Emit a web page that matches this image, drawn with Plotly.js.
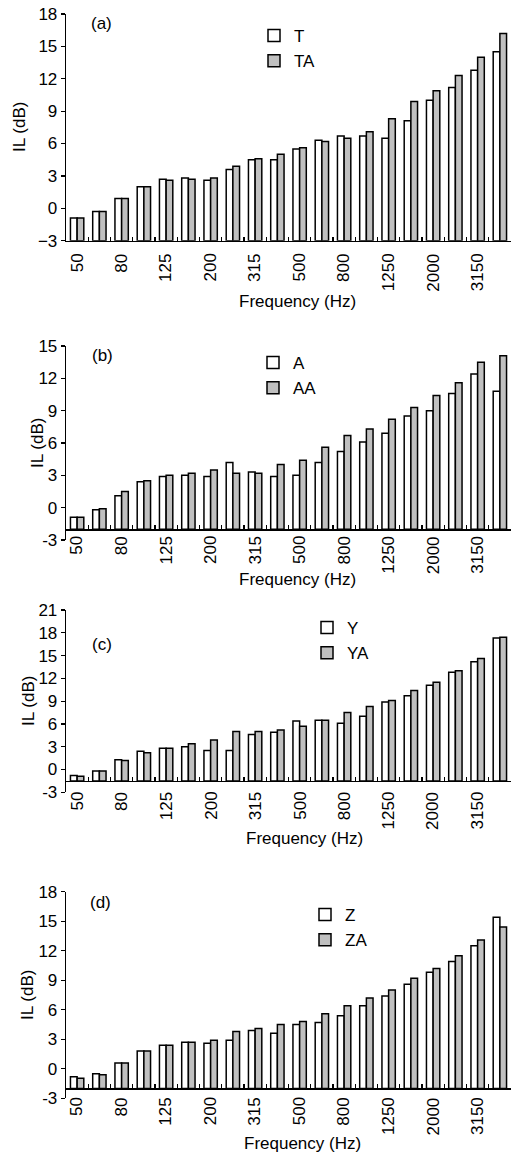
<!DOCTYPE html>
<html><head><meta charset="utf-8">
<script src="https://cdn.plot.ly/plotly-3.0.1.min.js"></script>
<style>html,body{margin:0;padding:0;background:#fff}#chart{width:519px;height:1153px}</style>
</head><body><div id="chart"></div>
<script>
// ---- data ----
const frequencies = ['50','63','80','100','125','160','200','250','315','400','500','630','800','1000','1250','1600','2000','2500','3150','4000'];
const tickLabels  = ['50','','80','','125','','200','','315','','500','','800','','1250','','2000','','3150',''];

const T  = [-0.9,-0.3,0.9,2.0,2.7,2.8,2.6,3.6,4.5,4.5,5.5,6.3,6.7,6.7,6.5,8.1,10.0,11.2,12.8,14.5];
const TA = [-0.9,-0.3,0.9,2.0,2.6,2.7,2.8,3.9,4.6,5.0,5.6,6.2,6.5,7.1,8.3,9.9,10.9,12.3,14.0,16.2];

const A  = [-0.9,-0.2,1.1,2.4,2.9,3.0,2.9,4.2,3.3,2.9,3.0,4.2,5.2,6.1,6.9,8.5,9.0,10.6,12.4,10.8];
const AA = [-0.9,-0.1,1.5,2.5,3.0,3.2,3.5,3.2,3.2,4.0,4.4,5.6,6.7,7.3,8.2,9.3,10.4,11.6,13.5,14.1];

const Y  = [-0.8,-0.2,1.3,2.4,2.8,3.0,2.5,2.5,4.6,4.9,6.4,6.5,6.1,7.0,8.9,9.7,11.1,12.8,14.2,17.3];
const YA = [-0.9,-0.2,1.2,2.2,2.8,3.4,3.9,5.0,5.0,5.2,5.7,6.5,7.5,8.3,9.1,10.4,11.5,13.0,14.6,17.4];

const Z  = [-0.8,-0.5,0.6,1.8,2.4,2.7,2.6,2.9,3.9,3.6,4.5,4.7,5.4,6.4,7.4,8.6,9.8,10.9,12.5,15.4];
const ZA = [-0.95,-0.6,0.6,1.8,2.4,2.7,2.9,3.8,4.1,4.5,4.8,5.6,6.4,7.2,8.0,9.2,10.2,11.5,13.1,14.4];

const panelLabels = ['(a)','(b)','(c)','(d)'];
const seriesNames = [['T','TA'],['A','AA'],['Y','YA'],['Z','ZA']];
const seriesData  = [[T,TA],[A,AA],[Y,YA],[Z,ZA]];
const yRanges     = [[-3,18],[-3,15],[-3,21],[-3,18]];
const baseValues  = [-3,-2,-1.5,-2];

// ---- layout (pixel geometry) ----
const W = 519, H = 1153;
const px = x => x / W;
const py = y => 1 - y / H;
const FONT = 'Liberation Sans, Arial, Helvetica, sans-serif';
const PLOT_L = 66, PLOT_R = 511;
const geom = [
  {top:14,    bottom:240.7, lab:[89,23],  xt:[297,302],  yt:[19,127], leg:[254,18],  lblGap:13},
  {top:346,   bottom:540,   lab:[90,355], xt:[297,579],  yt:[37,443], leg:[253,345], lblGap:7},
  {top:610,   bottom:792.3, lab:[90,644], xt:[304,838],  yt:[28,701], leg:[307,610], lblGap:11},
  {top:891.7, bottom:1098.3,lab:[88,902], xt:[302,1143], yt:[27,995], leg:[305,897], lblGap:9}
];
const fills = ['#ffffff','#c0c0c0'];
const axisLine = {showline: true, linecolor: '#000', linewidth: 1.3,
                  ticks: 'outside', ticklen: 4, tickwidth: 1.3, tickcolor: '#000',
                  showgrid: false, zeroline: false, fixedrange: true,
                  tickfont: {family: FONT, size: 17, color: '#000'}};

const traces = [];
const layout = {
  width: W, height: H,
  margin: {l:0, r:0, t:0, b:0},
  paper_bgcolor: '#fff', plot_bgcolor: 'rgba(0,0,0,0)',
  font: {family: FONT, size: 17, color: '#000'},
  barmode: 'group', bargap: 0.4, bargroupgap: 0,
  showlegend: true,
  annotations: []
};

let extraY = 5;
for (let i = 0; i < 4; i++) {
  const n = i + 1;
  const sfx = n === 1 ? '' : String(n);
  const g = geom[i];
  const [yMin, yMax] = yRanges[i];
  const base = baseValues[i];
  const legName = 'legend' + sfx;
  for (let s = 0; s < 2; s++) {
    traces.push({
      type: 'bar',
      x: frequencies,
      y: seriesData[i][s].map(v => v - base),
      base: base,
      name: seriesNames[i][s],
      xaxis: 'x' + sfx,
      yaxis: 'y' + sfx,
      legend: legName,
      legendgroup: 'g' + n + s,
      marker: {color: fills[s], line: {color: '#000', width: 1.5}},
      hoverinfo: 'x+y'
    });
  }
  const axisPixel = g.top + (yMax - base) / (yMax - yMin) * (g.bottom - g.top);
  layout['xaxis' + sfx] = Object.assign({}, axisLine, {
    domain: [px(PLOT_L), px(PLOT_R)],
    anchor: 'y' + sfx,
    type: 'category', range: [-0.5, 19.5],
    tickmode: 'array', tickvals: frequencies,
    ticks: 'inside', tickson: 'boundaries', showticklabels: false
  });
  layout['yaxis' + sfx] = Object.assign({}, axisLine, {
    domain: [py(axisPixel), py(g.top)],
    anchor: 'x' + sfx,
    range: [base, yMax], tick0: 0, dtick: 3
  });
  if (base > yMin) {
    // lower stub of the y axis, running below the x axis down to the range minimum
    layout['yaxis' + extraY] = Object.assign({}, axisLine, {
      domain: [py(g.bottom), py(axisPixel)],
      anchor: 'x' + sfx,
      range: [yMin, base], tickmode: 'array', tickvals: [yMin], ticktext: [String(yMin)]
    });
    traces.push({type: 'bar', x: [frequencies[0]], y: [null], xaxis: 'x' + sfx,
                 yaxis: 'y' + extraY, showlegend: false, hoverinfo: 'skip'});
    extraY++;
  }
  layout[legName] = {
    x: px(g.leg[0]), y: py(g.leg[1]), xanchor: 'left', yanchor: 'top',
    bgcolor: 'rgba(0,0,0,0)', borderwidth: 0,
    font: {family: FONT, size: 17, color: '#000'},
    traceorder: 'grouped', tracegroupgap: 0
  };
  // vertical tick labels at the centre of each labelled category band
  const band = (PLOT_R - PLOT_L) / frequencies.length;
  frequencies.forEach((f, k) => {
    if (!tickLabels[k]) return;
    const len = tickLabels[k].length * 0.556 * 17;
    layout.annotations.push({
      text: tickLabels[k],
      xref: 'paper', x: px(PLOT_L + (k + 0.5) * band),
      yref: 'paper', y: py(axisPixel + g.lblGap + len / 2),
      xanchor: 'center', yanchor: 'middle', textangle: -90,
      showarrow: false, font: {family: FONT, size: 17, color: '#000'}
    });
  });
  layout.annotations.push(
    {text: panelLabels[i], xref:'paper', yref:'paper', x: px(g.lab[0]), y: py(g.lab[1]),
     xanchor:'left', yanchor:'middle', showarrow:false, font:{family:FONT, size:17}},
    {text: 'Frequency (Hz)', xref:'paper', yref:'paper', x: px(g.xt[0]), y: py(g.xt[1]),
     xanchor:'center', yanchor:'middle', showarrow:false, font:{family:FONT, size:17}},
    {text: 'IL (dB)', xref:'paper', yref:'paper', x: px(g.yt[0]), y: py(g.yt[1]),
     xanchor:'center', yanchor:'middle', textangle:-90, showarrow:false, font:{family:FONT, size:17}}
  );
}

Plotly.newPlot('chart', traces, layout, {displayModeBar:false, staticPlot:true});
</script></body></html>
